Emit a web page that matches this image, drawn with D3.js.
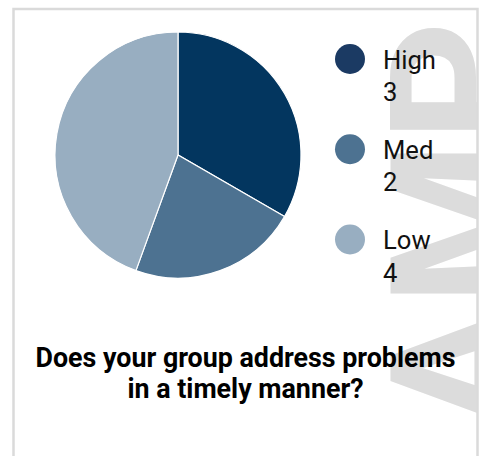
<!DOCTYPE html>
<html>
<head>
<meta charset="utf-8">
<script src="https://cdn.jsdelivr.net/npm/d3@7"></script>
<style>
  html, body { margin: 0; padding: 0; background: #fff; }
  body { width: 479px; height: 456px; overflow: hidden; }
  svg { display: block; font-family: Roboto, "Noto Sans", sans-serif; }
</style>
</head>
<body>
<script>
const categories = ["High", "Med", "Low"];
const values = [3, 2, 4];
const sliceColors = ["#03365f", "#4d7291", "#98aec1"];
const legendColors = ["#1b3a63", "#4d7291", "#98aec1"];
const titleLines = ["Does your group address problems", "in a timely manner?"];
const watermark = "AMP";

const W = 479, H = 456;
const svg = d3.select("body").append("svg").attr("width", W).attr("height", H);

// card clip
const card = { x: 13.5, y: 9, w: 464, h: 470 };
svg.append("defs").append("clipPath").attr("id", "cardClip")
  .append("rect").attr("x", card.x).attr("y", card.y).attr("width", card.w).attr("height", card.h);

const inner = svg.append("g").attr("clip-path", "url(#cardClip)");

// watermark
inner.append("text")
  .attr("transform", "translate(524,226) rotate(-90)")
  .attr("text-anchor", "middle")
  .attr("font-size", 187)
  .attr("font-weight", 700)
  .attr("fill", "#dcdcdc")
  .text(watermark);

// pie
const data = categories.map((c, i) => ({ cat: c, value: values[i], i }));
const pie = d3.pie().value(d => d.value).sort(null);
const arc = d3.arc().innerRadius(0).outerRadius(123);
const color = d3.scaleOrdinal().domain(categories).range(sliceColors);
const lcolor = d3.scaleOrdinal().domain(categories).range(legendColors);

const pg = inner.append("g").attr("transform", "translate(178,155)");
pg.selectAll("path").data(pie(data)).join("path")
  .attr("d", arc)
  .attr("fill", d => color(d.data.cat))
  .attr("stroke", "#fff")
  .attr("stroke-width", 1.2);

// legend
const ly = d3.scalePoint().domain(categories).range([59, 239.5]);
const lg = inner.append("g");
const items = lg.selectAll("g").data(data).join("g")
  .attr("transform", d => `translate(0,${ly(d.cat)})`);
items.append("circle").attr("cx", 350).attr("cy", 0).attr("r", 15)
  .attr("fill", d => lcolor(d.cat));
items.append("text").attr("x", 383).attr("y", 9.8)
  .attr("font-size", 25.6).attr("fill", "#111").text(d => d.cat);
items.append("text").attr("x", 383).attr("y", 42)
  .attr("font-size", 25.6).attr("fill", "#111").text(d => d.value);

// title
inner.append("g").selectAll("text").data(titleLines).join("text")
  .attr("x", 245.5)
  .attr("y", (d, i) => 366.7 + i * 31.6)
  .attr("text-anchor", "middle")
  .attr("font-size", 26.8)
  .attr("font-weight", 700)
  .attr("fill", "#000")
  .text(d => d);

// card border
svg.append("path")
  .attr("d", `M${card.x},${H + 5} V${card.y} H${card.x + card.w} V${H + 5}`)
  .attr("fill", "none")
  .attr("stroke", "#dadada")
  .attr("stroke-width", 2.5);
</script>
</body>
</html>
